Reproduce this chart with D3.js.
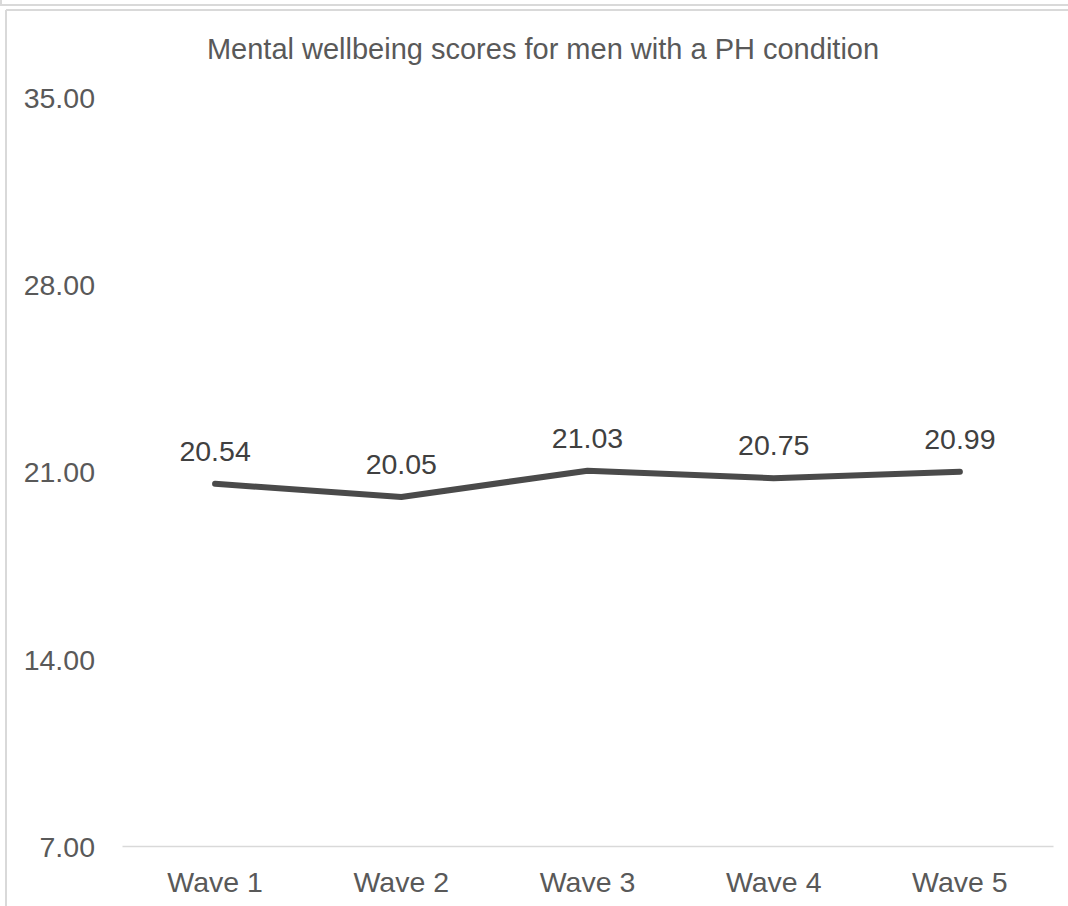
<!DOCTYPE html>
<html>
<head>
<meta charset="utf-8">
<script src="https://cdn.jsdelivr.net/npm/d3@7/dist/d3.min.js"></script>
<style>
  html, body { margin: 0; padding: 0; background: #fff; }
  svg { display: block; font-family: "Liberation Sans", Arial, sans-serif; }
</style>
</head>
<body>
<svg id="chart" width="1068" height="906"></svg>
<script>
// Chart data
const title = "Mental wellbeing scores for men with a PH condition";
const waves = ["Wave 1", "Wave 2", "Wave 3", "Wave 4", "Wave 5"];
const scores = [20.54, 20.05, 21.03, 20.75, 20.99];
const yTicks = [7, 14, 21, 28, 35];

const W = 1068, H = 906;
const svg = d3.select("#chart");

// Frame lines around the chart area
const frame = svg.append("g").attr("fill", "none").attr("stroke", "#d9d9d9").attr("stroke-width", 2);
frame.append("line").attr("x1", 0).attr("x2", W).attr("y1", 5).attr("y2", 5);
frame.append("line").attr("x1", 1).attr("x2", 1).attr("y1", 0).attr("y2", 5);
frame.append("line").attr("x1", 6).attr("x2", W).attr("y1", 10).attr("y2", 10);
frame.append("line").attr("x1", 6).attr("x2", 6).attr("y1", 10).attr("y2", H);

// Plot area
const plot = { left: 122, right: 1053, top: 97, bottom: 846 };

const x = d3.scaleBand().domain(waves).range([plot.left, plot.right]);
const y = d3.scaleLinear().domain([7, 35]).range([plot.bottom, plot.top]);

// Title
svg.append("text")
  .attr("x", 543).attr("y", 59)
  .attr("text-anchor", "middle")
  .attr("fill", "#595959")
  .style("font-size", "29px")
  .text(title);

// Y axis labels (no axis line)
const yAxis = d3.axisLeft(y).tickValues(yTicks).tickSize(0).tickPadding(0)
  .tickFormat(d3.format(".2f"));
const gy = svg.append("g").attr("transform", "translate(95,0)").call(yAxis);
gy.select(".domain").remove();
gy.selectAll("text")
  .attr("fill", "#595959")
  .attr("dy", "0.36em")
  .style("font-size", "28.5px")
  .style("font-family", "'Liberation Sans', Arial, sans-serif");

// X axis: baseline and category labels
const xAxis = d3.axisBottom(x).tickSize(0).tickPadding(0);
const gx = svg.append("g").attr("transform", `translate(0,${plot.bottom})`).call(xAxis);
gx.select(".domain").attr("stroke", "#d9d9d9").attr("stroke-width", 1.5);
gx.selectAll("text")
  .attr("fill", "#595959")
  .attr("y", 46)
  .attr("dy", 0)
  .style("font-size", "28.5px")
  .style("font-family", "'Liberation Sans', Arial, sans-serif");

// Series line
const pts = waves.map((w, i) => ({ w, v: scores[i] }));
const line = d3.line()
  .x(d => x(d.w) + x.bandwidth() / 2)
  .y(d => y(d.v));

svg.append("path")
  .datum(pts)
  .attr("d", line)
  .attr("fill", "none")
  .attr("stroke", "#4a4a4a")
  .attr("stroke-width", 6)
  .attr("stroke-linecap", "round")
  .attr("stroke-linejoin", "round");

// Value labels above each point
svg.append("g").selectAll("text")
  .data(pts)
  .join("text")
  .attr("x", d => x(d.w) + x.bandwidth() / 2)
  .attr("y", d => y(d.v) - 23)
  .attr("text-anchor", "middle")
  .attr("fill", "#404040")
  .style("font-size", "28.5px")
  .text(d => d3.format(".2f")(d.v));
</script>
</body>
</html>
